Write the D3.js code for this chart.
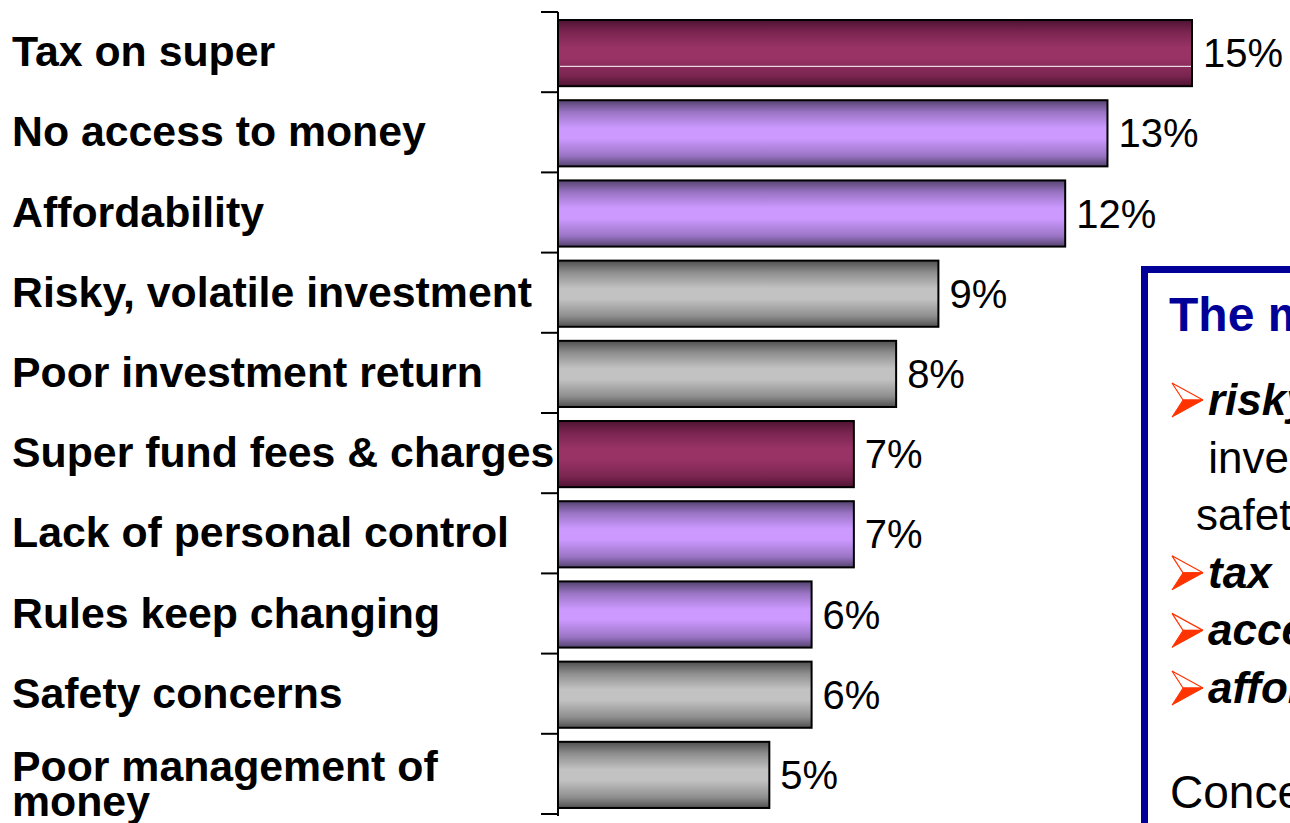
<!DOCTYPE html>
<html>
<head>
<meta charset="utf-8">
<script src="https://cdn.jsdelivr.net/npm/d3@7/dist/d3.min.js"></script>
<style>
  body { margin: 0; background: #fff; }
  svg { display: block; font-family: Arial, "Liberation Sans", sans-serif; }
</style>
</head>
<body>
<div id="viz"></div>
<script>
var w = 1290;
var h = 823;

// chart data
var categories = [
    "Tax on super",
    "No access to money",
    "Affordability",
    "Risky, volatile investment",
    "Poor investment return",
    "Super fund fees & charges",
    "Lack of personal control",
    "Rules keep changing",
    "Safety concerns",
    "Poor management of\nmoney"
];
var values = [15, 13, 12, 9, 8, 7, 7, 6, 6, 5];
var groups = ["cost", "access", "access", "risk", "risk", "cost", "access", "access", "risk", "risk"];

// note box text
var noteTitle = "The main concerns are:";
var noteLines = [
    {bullet: true, bold: true, text: "risky, poor"},
    {bullet: false, bold: false, text: " investment returns,"},
    {bullet: false, bold: false, text: "safety"},
    {bullet: true, bold: true, text: "tax"},
    {bullet: true, bold: true, text: "access to money"},
    {bullet: true, bold: true, text: "affordability"}
];
var noteFooter = "Concerns vary by segment";

var svg = d3.select("#viz")
    .append("svg")
    .attr("width", w)
    .attr("height", h);

var defs = svg.append("defs");

var palette = {
    cost: {dark: "#4f1332", mid: "#7a2550", light: "#993366"},
    access: {dark: "#54436f", mid: "#9a74c4", light: "#cc99ff"},
    risk: {dark: "#505050", mid: "#8e8e8e", light: "#c2c2c2"}
};

Object.keys(palette).forEach(function (k) {
    var c = palette[k];
    var g = defs.append("linearGradient")
        .attr("id", "grad-" + k)
        .attr("x1", 0).attr("y1", 0)
        .attr("x2", 0).attr("y2", 1);
    [[0, c.dark], [0.18, c.mid], [0.42, c.light], [0.58, c.light], [0.84, c.mid], [1, c.dark]]
        .forEach(function (s) {
            g.append("stop").attr("offset", s[0]).attr("stop-color", s[1]);
        });
});

var x = d3.scaleLinear()
    .domain([0, 15])
    .range([558, 1192]);

var y = d3.scaleBand()
    .domain(d3.range(categories.length))
    .range([12, 814])
    .paddingInner(0.175)
    .paddingOuter(0.0875);

var step = y.step();
var halfGap = step * y.paddingInner() / 2;

// bars
var bars = svg.append("g").attr("class", "bars");

bars.selectAll("rect")
    .data(values)
    .enter()
    .append("rect")
    .attr("x", x(0))
    .attr("y", function (d, i) { return y(i) + 1; })
    .attr("width", function (d) { return x(d) - x(0); })
    .attr("height", y.bandwidth())
    .style("fill", function (d, i) { return "url(#grad-" + groups[i] + ")"; })
    .style("stroke", "#000")
    .style("stroke-width", 2);

// thin highlight line seen on the top bar
bars.append("line")
    .attr("x1", x(0) + 2)
    .attr("x2", x(values[0]) - 1)
    .attr("y1", y(0) + 1 + y.bandwidth() * 0.7)
    .attr("y2", y(0) + 1 + y.bandwidth() * 0.7)
    .style("stroke", "#fff")
    .style("stroke-width", 1);

// value labels
svg.append("g").selectAll("text")
    .data(values)
    .enter()
    .append("text")
    .attr("x", function (d) { return x(d) + 11; })
    .attr("y", function (d, i) { return y(i) + y.bandwidth() / 2 + 15; })
    .style("font-size", "40px")
    .style("fill", "#000")
    .text(function (d) { return d + "%"; });

// axis
var axis = svg.append("g").attr("class", "axis");
axis.append("line")
    .attr("x1", x(0)).attr("x2", x(0))
    .attr("y1", 12).attr("y2", 816)
    .style("stroke", "#000")
    .style("stroke-width", 2);

var tickY = d3.range(categories.length).map(function (i) { return y(i) - halfGap; });
tickY.push(y(categories.length - 1) + y.bandwidth() + halfGap);

axis.selectAll("line.tick")
    .data(tickY)
    .enter()
    .append("line")
    .attr("class", "tick")
    .attr("x1", x(0) - 17).attr("x2", x(0))
    .attr("y1", function (d) { return d; })
    .attr("y2", function (d) { return d; })
    .style("stroke", "#000")
    .style("stroke-width", 2);

// category labels
var labels = svg.append("g").selectAll("text")
    .data(categories)
    .enter()
    .append("text")
    .attr("x", 12)
    .style("font-size", "42.8px")
    .style("font-weight", "bold")
    .style("fill", "#000")
    .attr("y", function (d, i) {
        var n = d.split("\n").length;
        return y(i) + y.bandwidth() / 2 + 14 - (n - 1) * 7;
    });

labels.each(function (d) {
    var t = d3.select(this);
    d.split("\n").forEach(function (line, j) {
        t.append("tspan")
            .attr("x", 12)
            .attr("dy", j == 0 ? 0 : 35)
            .text(line);
    });
});

// note box
var note = svg.append("g").attr("class", "note");

note.append("rect")
    .attr("x", 1144.5)
    .attr("y", 269.5)
    .attr("width", 400)
    .attr("height", 700)
    .style("fill", "#fff")
    .style("stroke", "#000099")
    .style("stroke-width", 7);

note.append("text")
    .attr("x", 1169)
    .attr("y", 331)
    .style("font-size", "48px")
    .style("font-weight", "bold")
    .style("fill", "#000099")
    .text(noteTitle);

var lineStep = 57.6;
var firstBase = 415;

noteLines.forEach(function (l, i) {
    var by = firstBase + i * lineStep;
    if (l.bullet) {
        var ax = 1172, ay = by - 15;
        note.append("path")
            .attr("d", "M" + ax + "," + (ay - 17) + "L" + (ax + 31) + "," + ay + "L" + (ax + 11) + "," + ay + "Z")
            .style("fill", "#fff")
            .style("stroke", "#ff3300")
            .style("stroke-width", 1.2)
            .style("stroke-linejoin", "miter");
        note.append("path")
            .attr("d", "M" + (ax + 11) + "," + ay + "L" + (ax + 31) + "," + ay + "L" + ax + "," + (ay + 17) + "Z")
            .style("fill", "#ff3300")
            .style("stroke", "#ff3300")
            .style("stroke-width", 1);
    }
    note.append("text")
        .attr("x", l.bullet ? 1208 : 1196)
        .attr("y", by)
        .style("font-size", "44px")
        .style("font-weight", l.bold ? "bold" : "normal")
        .style("font-style", l.bold ? "italic" : "normal")
        .style("white-space", "pre")
        .style("fill", "#000")
        .text(l.text);
});

note.append("text")
    .attr("x", 1170)
    .attr("y", 808)
    .style("font-size", "46px")
    .style("fill", "#000")
    .text(noteFooter);
</script>
</body>
</html>
